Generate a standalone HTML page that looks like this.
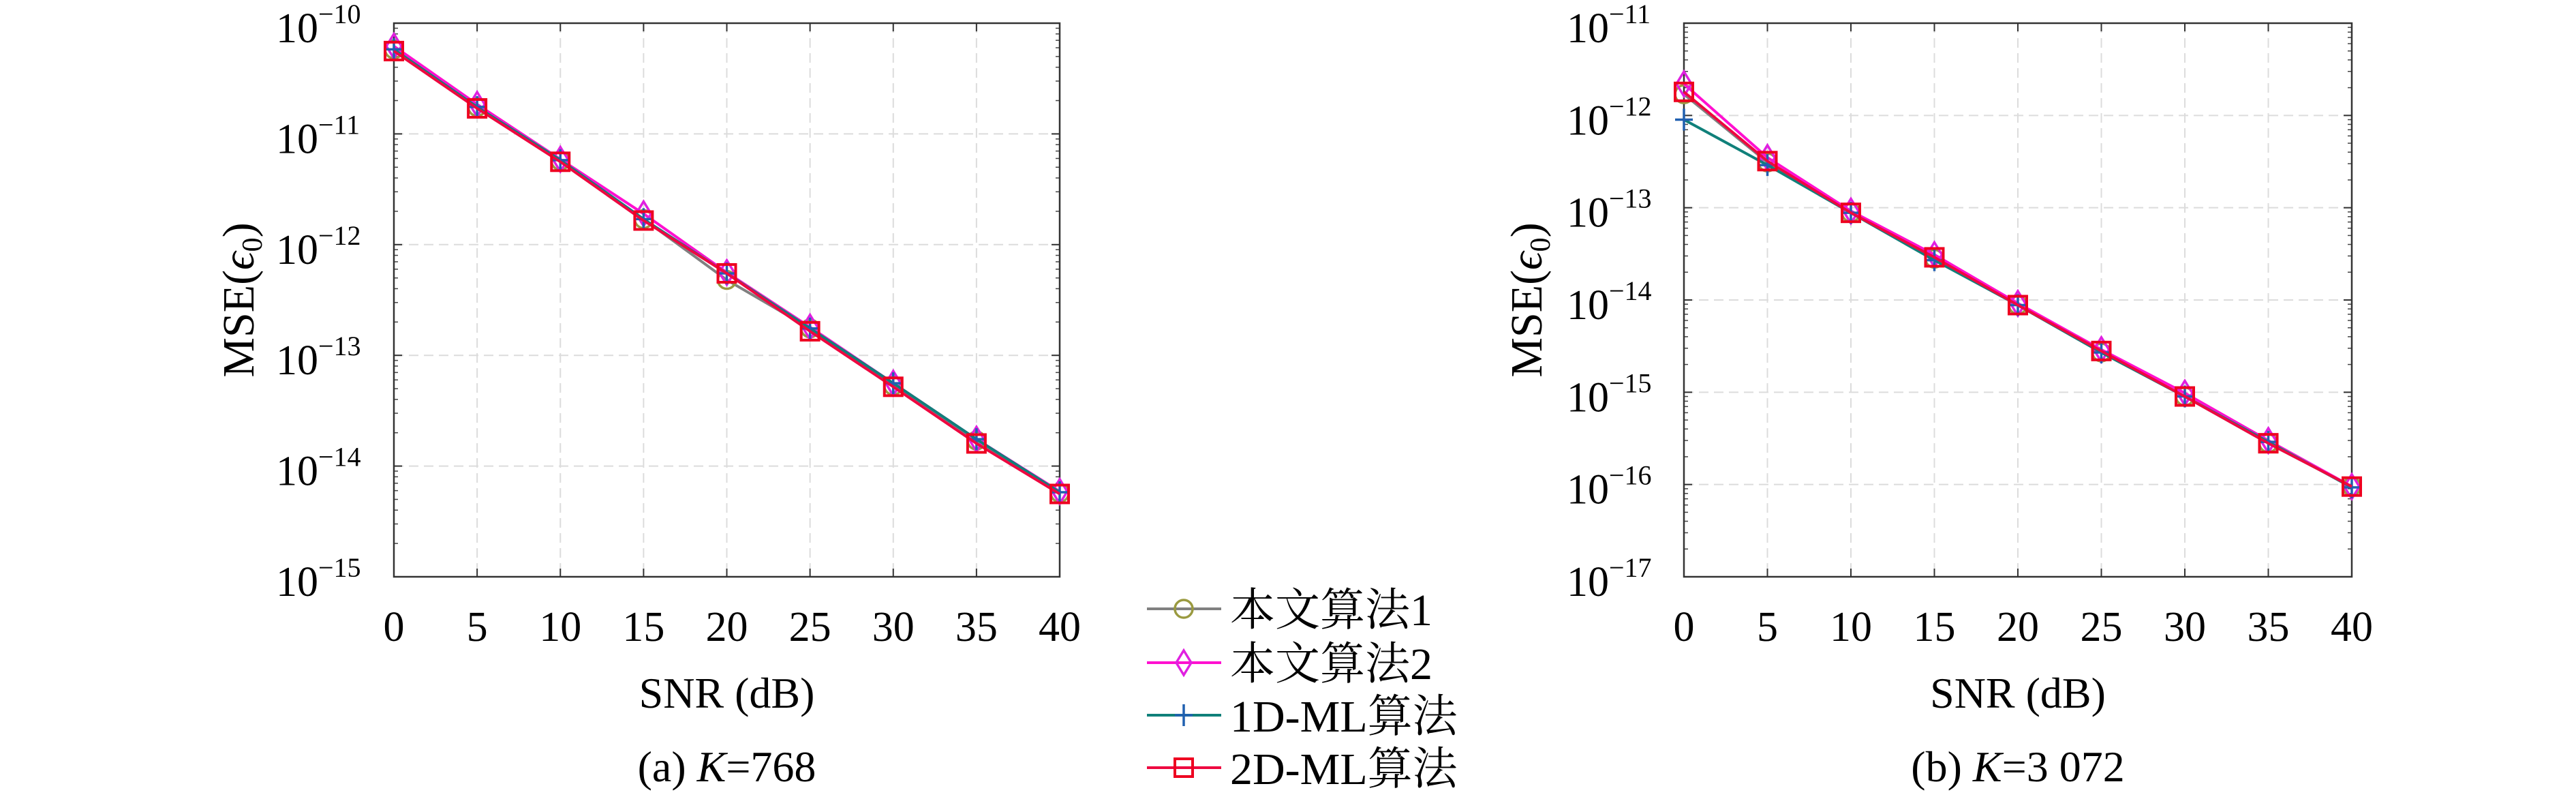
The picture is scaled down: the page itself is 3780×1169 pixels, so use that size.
<!DOCTYPE html>
<html><head><meta charset="utf-8"><style>
html,body{margin:0;padding:0;background:#fff;width:3780px;height:1169px;overflow:hidden}
svg{display:block}
text{font-family:"Liberation Serif","Noto Serif CJK SC",serif;fill:#000}
</style></head><body>
<svg id="chart" width="3780" height="1169" viewBox="0 0 3780 1169"></svg>
<script>
const snr=[0,5,10,15,20,25,30,35,40];
const xTicks=["0","5","10","15","20","25","30","35","40"];
const aAlg1=[5.8e-11,1.75e-11,5.7e-12,1.7e-12,4.8e-13,1.75e-13,5.3e-14,1.7e-14,5.7e-15];
const aAlg2=[6.2e-11,1.85e-11,5.9e-12,1.9e-12,5.6e-13,1.8e-13,5.6e-14,1.75e-14,5.9e-15];
const a1D=[5.8e-11,1.75e-11,5.8e-12,1.7e-12,5.5e-13,1.75e-13,5.6e-14,1.75e-14,5.8e-15];
const a2D=[5.6e-11,1.7e-11,5.6e-12,1.65e-12,5.5e-13,1.65e-13,5.2e-14,1.6e-14,5.6e-15];
const bAlg1=[1.7e-12,3.1e-13,8.8e-14,2.8e-14,8.8e-15,2.7e-15,9.0e-16,2.8e-16,9.5e-17];
const bAlg2=[2.2e-12,3.5e-13,9.2e-14,3.1e-14,9.2e-15,2.9e-15,9.8e-16,3.0e-16,9.5e-17];
const b1D=[9.0e-13,2.9e-13,8.8e-14,2.7e-14,8.8e-15,2.7e-15,9.0e-16,2.9e-16,9.3e-17];
const b2D=[1.8e-12,3.2e-13,8.8e-14,2.9e-14,8.8e-15,2.8e-15,9.0e-16,2.8e-16,9.5e-17];
const aExp=[-10,-11,-12,-13,-14,-15];
const bExp=[-11,-12,-13,-14,-15,-16,-17];
const names=["本文算法1","本文算法2","1D-ML算法","2D-ML算法"];

const NS="http://www.w3.org/2000/svg";
const svg=document.getElementById('chart');
function mk(tag,attrs,parent){const e=document.createElementNS(NS,tag);for(const k in attrs)e.setAttribute(k,attrs[k]);(parent||svg).appendChild(e);return e;}
const styles=[{c:"#808080",m:"circle",mc:"#9a9a40"},{c:"#ff10d0",m:"diamond",mc:"#e020e0"},{c:"#10807a",m:"plus",mc:"#2060b0"},{c:"#ee0840",m:"square",mc:"#ee0020"}];
function marker(g,s,x,y){
  let e;
  if(s.m==="circle"){e=mk('circle',{cx:x,cy:y,r:13,fill:"none",stroke:s.mc,"stroke-width":3.5},g);}
  else if(s.m==="diamond"){e=mk('polygon',{points:`${x},${y-18} ${x+11},${y} ${x},${y+18} ${x-11},${y}`,fill:"none",stroke:s.mc,"stroke-width":3.5},g);}
  else if(s.m==="plus"){e=mk('path',{d:`M${x-13},${y}H${x+13}M${x},${y-16}V${y+16}`,stroke:s.mc,"stroke-width":3.5},g);}
  else {e=mk('rect',{x:x-13,y:y-13,width:26,height:26,fill:"none",stroke:s.mc,"stroke-width":4},g);}
  
  
}
function panel(id,L,R,T,B,exps,series,caption,ylx,tlx){
  const g=mk('g',{});
  
  
  const top=exps[0],bot=exps[exps.length-1];
  const xs=v=>L+(v-0)/(40-0)*(R-L);
  const ys=v=>T+(top-Math.log10(v))/(top-bot)*(B-T);
  snr.forEach(v=>{const l=mk('line',{x1:xs(v),x2:xs(v),y1:T,y2:B,stroke:"#dcdcdc","stroke-width":2,"stroke-dasharray":"14,8"},g);});
  exps.forEach(e=>{const y=ys(Math.pow(10,e));const l=mk('line',{x1:L,x2:R,y1:y,y2:y,stroke:"#dcdcdc","stroke-width":2,"stroke-dasharray":"14,8"},g);});
  for(let i=0;i<exps.length-1;i++){for(let k=2;k<=9;k++){const y=ys(k*Math.pow(10,exps[i+1]));mk('line',{x1:L,x2:L+6,y1:y,y2:y,stroke:"#444","stroke-width":1.5},g);mk('line',{x1:R,x2:R-6,y1:y,y2:y,stroke:"#444","stroke-width":1.5},g);}}
  const box=mk('rect',{x:L,y:T,width:R-L,height:B-T,fill:"none",stroke:"#333","stroke-width":2.5},g);
  
  
  snr.forEach((v,i)=>{const x=xs(v);mk('line',{x1:x,x2:x,y1:B,y2:B-12,stroke:"#333","stroke-width":2},g);mk('line',{x1:x,x2:x,y1:T,y2:T+12,stroke:"#333","stroke-width":2},g);
    const t=mk('text',{x:x,y:B+94,"font-size":62,"text-anchor":"middle"},g);t.textContent=xTicks[i];
    });
  exps.forEach(e=>{const y=ys(Math.pow(10,e));mk('line',{x1:L,x2:L+12,y1:y,y2:y,stroke:"#333","stroke-width":2},g);mk('line',{x1:R,x2:R-12,y1:y,y2:y,stroke:"#333","stroke-width":2},g);
    const t=mk('text',{x:tlx,y:y+28,"font-size":62},g);t.textContent="10";
    
    const s=mk('tspan',{dy:-28,"font-size":40},t);s.textContent="−"+(-e);});
  series.forEach((d,si)=>{const s=styles[si];
    const pl=mk('polyline',{points:d.map((v,i)=>xs(snr[i])+","+ys(v)).join(" "),fill:"none",stroke:s.c,"stroke-width":4},g);
    
    d.forEach((v,i)=>marker(g,s,xs(snr[i]),ys(v)));});
  const cx=(L+R)/2;
  const xl=mk('text',{x:cx,y:1038,"font-size":64,"text-anchor":"middle"},g);xl.textContent="SNR (dB)";
  
  const yl=mk('text',{x:0,y:0,"font-size":66,"text-anchor":"middle",transform:`translate(${ylx},${(T+B)/2}) rotate(-90)`},g);
  
  yl.innerHTML='MSE(<tspan font-style="italic">ϵ</tspan><tspan font-size="42" dy="12">0</tspan><tspan dy="-12">)</tspan>';
  const cp=mk('text',{x:cx,y:1146,"font-size":64,"text-anchor":"middle"},g);
  
  cp.innerHTML=caption;
}
panel('panel-a',578,1555,34,846,aExp,[aAlg1,aAlg2,a1D,a2D],'(a) <tspan font-style="italic">K</tspan>=768',372,405);
panel('panel-b',2471,3451,34,846,bExp,[bAlg1,bAlg2,b1D,b2D],'(b) <tspan font-style="italic">K</tspan>=3 072',2262,2299);
const lg=mk('g',{});


const rows=[893,972,1049,1126];
names.forEach((n,i)=>{const s=styles[i];const y=rows[i];
  const ent=mk('g',{},lg);
  
  
  mk('line',{x1:1683,x2:1792,y1:y,y2:y,stroke:s.c,"stroke-width":4},ent);
  marker(ent,s,1737,y);
  const t=mk('text',{x:1805,y:y+24,"font-size":66},ent);t.textContent=n;});
</script>
</body></html>
